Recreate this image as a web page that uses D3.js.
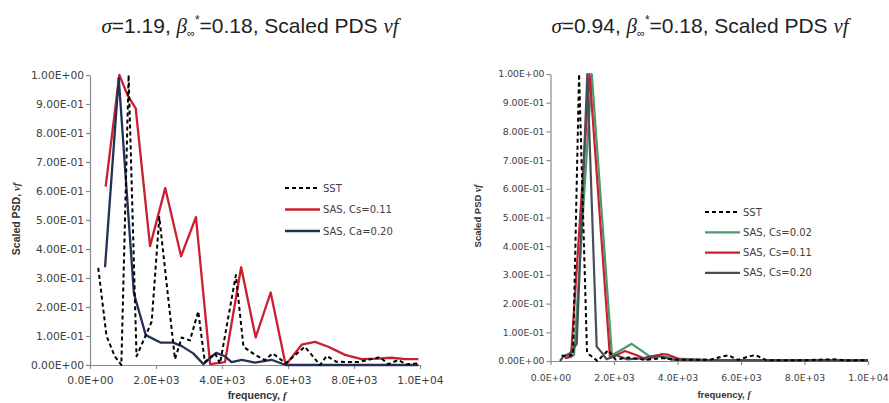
<!DOCTYPE html>
<html>
<head>
<meta charset="utf-8">
<script src="https://cdn.jsdelivr.net/npm/d3@7"></script>
<style>
  html, body { margin: 0; padding: 0; background: #fff; }
  svg { display: block; }
</style>
</head>
<body>
<svg id="chart" width="889" height="403"></svg>
<script>
// ---------------- DATA ----------------
const xTickValues = [0, 2000, 4000, 6000, 8000, 10000];
const xTickLabels = ["0.0E+00", "2.0E+03", "4.0E+03", "6.0E+03", "8.0E+03", "1.0E+04"];
const yTickValues = [0, 0.1, 0.2, 0.3, 0.4, 0.5, 0.6, 0.7, 0.8, 0.9, 1.0];
const yTickLabels = ["0.00E+00", "1.00E-01", "2.00E-01", "3.00E-01", "4.00E-01", "5.00E-01",
                     "6.00E-01", "7.00E-01", "8.00E-01", "9.00E-01", "1.00E+00"];

// Left panel: sigma = 1.19
const leftSST = [[250,0.335],[500,0.10],[750,0.03],[950,0.0],[1170,1.0],[1410,0.03],[1720,0.11],[1870,0.15],
  [2100,0.51],[2575,0.02],[2780,0.095],[3030,0.085],[3280,0.185],[3480,0.01],[3790,0.04],[3940,0.005],
  [4420,0.31],[4650,0.063],[5000,0.035],[5300,0.017],[5535,0.04],[5930,0.006],[6510,0.063],[6970,0.0],
  [7170,0.031],[7470,0.011],[8130,0.01],[8790,0.027],[9040,0.003],[9340,0.017],[9600,0.003],[9950,0.005]];
const leftCs011 = [[475,0.615],[890,1.0],[1140,0.93],[1385,0.885],[1820,0.41],[2280,0.61],[2760,0.375],
  [3210,0.51],[3640,0.003],[4090,0.01],[4580,0.337],[5020,0.095],[5475,0.25],[5930,0.0],[6415,0.07],
  [6820,0.08],[7220,0.063],[7730,0.035],[8230,0.02],[8740,0.022],[9140,0.025],[9550,0.02],[9950,0.02]];
const leftCa020 = [[455,0.337],[870,0.99],[1330,0.247],[1690,0.103],[2150,0.077],[2525,0.077],[2780,0.065],
  [3130,0.04],[3435,0.003],[3820,0.042],[4090,0.03],[4290,0.01],[4600,0.018],[5000,0.008],[5500,0.018],
  [5930,0.0],[6500,0.0],[7500,0.0],[8500,0.0],[9950,0.0]];
const leftNames = ["SST", "SAS, Cs=0.11", "SAS, Ca=0.20"];

// Right panel: sigma = 0.94
const rightSST = [[350,0.018],[710,0.02],[900,1.0],[1150,0.03],[1250,0.02],[1480,0.0],[1820,0.038],[2050,0.005],
  [2450,0.012],[3000,0.004],[3500,0.01],[4000,0.004],[5000,0.004],[5390,0.015],[5600,0.02],[5900,0.004],
  [6280,0.017],[6470,0.02],[6800,0.003],[8000,0.003],[8900,0.006],[9300,0.002],[10000,0.003]];
const rightCs002 = [[500,0.01],[740,0.02],[1300,1.0],[1935,0.02],[2560,0.06],[3135,0.015],[3550,0.015],
  [4000,0.008],[5000,0.003],[7000,0.002],[10000,0.002]];
const rightCs011 = [[450,0.01],[645,0.015],[1230,1.0],[1875,0.01],[2345,0.035],[2715,0.02],[3030,0.005],
  [3500,0.024],[3700,0.022],[4100,0.005],[5000,0.003],[7000,0.002],[10000,0.002]];
const rightCs020 = [[300,0.0],[400,0.015],[615,0.027],[825,0.06],[1160,1.0],[1455,0.05],[1610,0.03],
  [1770,0.006],[2080,0.02],[2400,0.006],[2920,0.01],[3345,0.02],[3800,0.005],[5000,0.003],[7000,0.002],[10000,0.002]];
const rightNames = ["SST", "SAS, Cs=0.02", "SAS, Cs=0.11", "SAS, Cs=0.20"];

// ---------------- DRAW ----------------
const svg = d3.select("#chart");
const axisColor = "#8a8a8a";
const textColor = "#404040";

function panel(cfg) {
  const x = d3.scaleLinear().domain([0, 10000]).range(cfg.xr);
  const y = d3.scaleLinear().domain([0, 1]).range(cfg.yr);
  const g = svg.append("g");

  const yAxis = g.append("g").attr("transform", `translate(${cfg.xr[0]},0)`)
    .call(d3.axisLeft(y).tickValues(yTickValues).tickFormat((d, i) => yTickLabels[i])
      .tickSize(4).tickSizeOuter(0).tickPadding(2));
  const xAxis = g.append("g").attr("transform", `translate(0,${cfg.yr[0]})`)
    .call(d3.axisBottom(x).tickValues(xTickValues).tickFormat((d, i) => xTickLabels[i])
      .tickSize(4).tickSizeOuter(0).tickPadding(cfg.xPad));
  [yAxis, xAxis].forEach(a => {
    a.selectAll("path, line").attr("stroke", axisColor).attr("stroke-width", 1.2);
    a.selectAll("text").attr("fill", textColor).attr("font-family", "DejaVu Sans")
      .attr("font-size", cfg.tickFont);
  });

  const line = d3.line().x(d => x(d[0])).y(d => y(d[1]));
  cfg.series.forEach(s => {
    g.append("path").datum(s.data).attr("d", line).attr("fill", "none")
      .attr("stroke", s.color).attr("stroke-width", s.width)
      .attr("stroke-dasharray", s.dash || null).attr("stroke-linejoin", "round");
  });

  // legend
  cfg.legendOrder.forEach((s, i) => {
    const ly = cfg.legend.y0 + i * cfg.legend.dy;
    g.append("line").attr("x1", cfg.legend.x).attr("x2", cfg.legend.x + 35)
      .attr("y1", ly).attr("y2", ly).attr("stroke", s.color).attr("stroke-width", s.width)
      .attr("stroke-dasharray", s.dash || null);
    g.append("text").attr("x", cfg.legend.x + 38).attr("y", ly).attr("dy", "0.35em")
      .attr("font-family", "DejaVu Sans").attr("font-size", 10).attr("fill", textColor).text(s.name);
  });

  // title
  const t = g.append("text").attr("x", cfg.titleX).attr("y", 33).attr("text-anchor", "middle")
    .attr("font-family", "Liberation Sans").attr("font-size", 21).attr("fill", "#222");
  t.append("tspan").attr("font-style", "italic").attr("font-family", "Liberation Serif").text("σ");
  t.append("tspan").text("=" + cfg.sigma + ", ");
  t.append("tspan").attr("font-style", "italic").attr("font-family", "Liberation Serif").text("β");
  t.append("tspan").attr("font-size", 11).attr("dy", 4).text("∞");
  t.append("tspan").attr("font-size", 12).attr("dy", -13).text("*");
  t.append("tspan").attr("dy", 9).text("=0.18, Scaled PDS ");
  t.append("tspan").attr("font-style", "italic").attr("font-family", "Liberation Serif").text("νf");

  // axis titles
  const xt = g.append("text").attr("x", cfg.xTitle.x).attr("y", cfg.xTitle.y).attr("text-anchor", "middle")
    .attr("font-family", "Liberation Sans").attr("font-weight", "bold").attr("font-size", cfg.xTitle.size)
    .attr("fill", "#333");
  xt.append("tspan").text("frequency, ");
  xt.append("tspan").attr("font-style", "italic").attr("font-family", "Liberation Serif").text("f");

  const yt = g.append("text").attr("transform", `translate(${cfg.yTitle.x},${cfg.yTitle.y}) rotate(-90)`)
    .attr("text-anchor", "middle").attr("font-family", "Liberation Sans").attr("font-weight", "bold")
    .attr("font-size", cfg.yTitle.size).attr("fill", "#333");
  yt.append("tspan").text(cfg.yTitle.text);
  yt.append("tspan").attr("font-style", "italic").attr("font-family", "Liberation Serif").text("νf");
}

const lSST = {name: leftNames[0], data: leftSST, color: "#000", width: 2, dash: "4,3"};
const lRed = {name: leftNames[1], data: leftCs011, color: "#c8202f", width: 2.3};
const lNavy = {name: leftNames[2], data: leftCa020, color: "#243156", width: 2.3};
panel({
  xr: [90, 420], yr: [365, 75], xPad: 7, tickFont: 10.7,
  series: [lRed, lNavy, lSST],
  legendOrder: [lSST, lRed, lNavy],
  legend: {x: 285, y0: 188, dy: 21.5},
  titleX: 250, sigma: "1.19",
  xTitle: {x: 257, y: 399, size: 10.5},
  yTitle: {x: 20, y: 219, size: 10.5, text: "Scaled PSD, "}
});

const rSST = {name: rightNames[0], data: rightSST, color: "#000", width: 2, dash: "4,3"};
const rGreen = {name: rightNames[1], data: rightCs002, color: "#4a9a6c", width: 2.2};
const rRed = {name: rightNames[2], data: rightCs011, color: "#c8202f", width: 2.2};
const rGray = {name: rightNames[3], data: rightCs020, color: "#474d59", width: 2.2};
panel({
  xr: [550.5, 868], yr: [361, 74], xPad: 9, tickFont: 9.3,
  series: [rGreen, rRed, rGray, rSST],
  legendOrder: [rSST, rGreen, rRed, rGray],
  legend: {x: 705, y0: 212, dy: 20.3},
  titleX: 700, sigma: "0.94",
  xTitle: {x: 724, y: 398, size: 9.5},
  yTitle: {x: 481, y: 216, size: 9.5, text: "Scaled PSD  "}
});
</script>
</body>
</html>
